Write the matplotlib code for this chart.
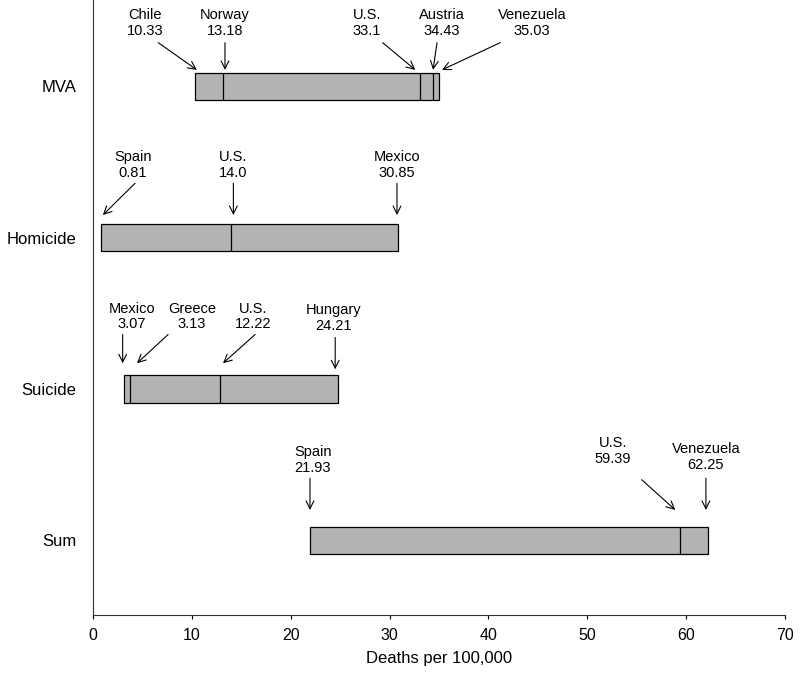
import matplotlib.pyplot as plt
import numpy as np

plt.rcParams['font.family'] = ['Liberation Sans', 'DejaVu Sans']

# categories (top to bottom)
cats = ['MVA', 'Homicide', 'Suicide', 'Sum']

# values (bar start, dividers, bar end)
mva_vals = [10.33, 13.18, 33.1, 34.43, 35.03]
hom_vals = [0.81, 14.0, 30.85]
sui_vals = [3.1, 3.7, 12.8, 24.8]
sum_vals = [21.93, 59.39, 62.25]

mva_names = ['Chile', 'Norway', 'U.S.', 'Austria', 'Venezuela']
hom_names = ['Spain', 'U.S.', 'Mexico']
sui_names = ['Mexico', 'Greece', 'U.S.', 'Hungary']
sum_names = ['Spain', 'U.S.', 'Venezuela']

mva_labels = ['10.33', '13.18', '33.1', '34.43', '35.03']
hom_labels = ['0.81', '14.0', '30.85']
sui_labels = ['3.07', '3.13', '12.22', '24.21']
sum_labels = ['21.93', '59.39', '62.25']

all_vals = [mva_vals, hom_vals, sui_vals, sum_vals]
all_names = [mva_names, hom_names, sui_names, sum_names]
all_labels = [mva_labels, hom_labels, sui_labels, sum_labels]

# annotation layout: (text x, arrow tail x, arrow head x, text dy, tail dy, head dy)
layout = [
    [(5.3, 6.6, 10.5, -0.42, -0.29, -0.11),
     (13.35, 13.35, 13.35, -0.42, -0.29, -0.11),
     (27.7, 29.3, 32.6, -0.42, -0.29, -0.11),
     (35.3, 34.8, 34.4, -0.42, -0.29, -0.11),
     (44.4, 41.2, 35.3, -0.42, -0.29, -0.11)],
    [(4.05, 4.25, 1.0, -0.48, -0.36, -0.15),
     (14.2, 14.2, 14.2, -0.48, -0.36, -0.15),
     (30.75, 30.75, 30.75, -0.48, -0.36, -0.15)],
    [(3.95, 3.0, 3.0, -0.48, -0.36, -0.17),
     (10.0, 7.6, 4.45, -0.48, -0.36, -0.17),
     (16.2, 16.4, 13.15, -0.48, -0.36, -0.17),
     (24.3, 24.5, 24.5, -0.47, -0.34, -0.13)],
    [(22.25, 21.95, 21.95, -0.53, -0.41, -0.20),
     (52.6, 55.5, 58.9, -0.59, -0.40, -0.20),
     (62.0, 62.0, 62.0, -0.55, -0.41, -0.20)],
]

fig = plt.figure(figsize=(8, 6.76), dpi=100)
ax = fig.add_axes([0.11625, 0.0902, 0.865, 0.9098])

h = 0.18
for i, vals in enumerate(all_vals):
    ax.barh(i, vals[-1] - vals[0], left=vals[0], height=h,
            color='#b3b3b3', edgecolor='black', linewidth=0.9, zorder=2)
    ax.vlines(vals[1:-1], i - h / 2, i + h / 2, color='black', lw=0.9, zorder=3)
    for name, lab, lay in zip(all_names[i], all_labels[i], layout[i]):
        tx, ax0, ax1, tdy, t0, t1 = lay
        ax.text(tx, i + tdy, name + '\n' + lab, ha='center', va='center',
                multialignment='center', fontsize=10.5, linespacing=1.15)
        ax.annotate('', xy=(ax1, i + t1), xytext=(ax0, i + t0),
                    arrowprops=dict(arrowstyle='->', color='black', lw=0.8,
                                    shrinkA=0, shrinkB=0, mutation_scale=14))

ax.set_xlim(0, 70)
ax.set_ylim(3.495, -0.572)
ax.set_xticks(np.arange(0, 71, 10))
ax.set_yticks(range(len(cats)))
ax.set_yticklabels(cats, fontsize=12)
ax.tick_params(axis='y', length=0, pad=12)
ax.tick_params(axis='x', length=3, labelsize=11.5, pad=6)
ax.set_xlabel('Deaths per 100,000', fontsize=12, labelpad=6)
ax.spines['top'].set_visible(False)
ax.spines['right'].set_visible(False)
ax.spines['left'].set_color('#333333')
ax.spines['bottom'].set_color('#333333')

fig.savefig('out.png', dpi=100)
